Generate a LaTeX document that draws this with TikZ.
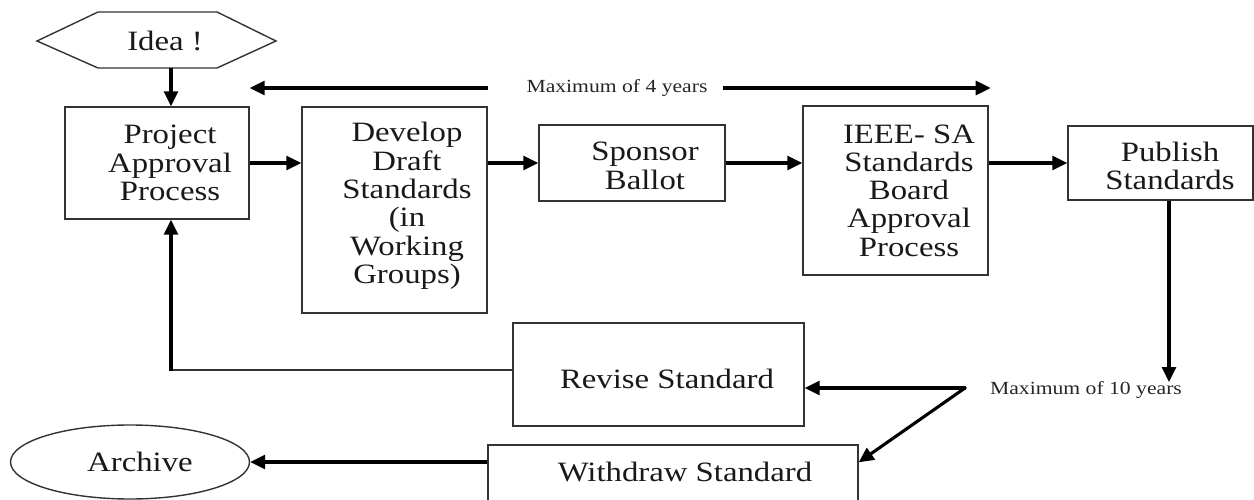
\documentclass[tikz,border=0pt]{standalone}
\usepackage{fontspec}
\setmainfont{Liberation Serif}[FakeStretch=1.17]
\usetikzlibrary{arrows.meta,shapes.geometric,calc}
\begin{document}
\begin{tikzpicture}[x=1pt,y=-1pt,
  box/.style={draw=black!80, line width=1.4pt, rectangle, inner sep=0pt},
  btxt/.style={font=\fontsize{28}{28.3}\selectfont, align=center, text=black!90, inner sep=0pt},
  small/.style={font=\fontsize{18.5}{20}\selectfont, text=black!85, inner sep=0pt},
  arr/.style={line width=3.1pt, -{Triangle[length=15pt,width=14pt]}},
  thinline/.style={line width=1.4pt, draw=black!80}]
\clip (0,0) rectangle (1254,500);
\fill[white] (0,0) rectangle (1254,500);

% hexagon
\draw[thinline] (37,41) -- (98,12) -- (217,12) -- (276,41) -- (217,68) -- (98,68) -- cycle;
\node[btxt] (idea) at (165,41) {Idea !};
\coordinate (ideabot) at (171,68);
\coordinate (pcol) at (171,0);

% boxes
\node[box, minimum width=184pt, minimum height=112pt] (proj) at (157,163) {};
\node[btxt] (projt) at (170,163) {Project\\Approval\\Process};

\node[box, minimum width=185pt, minimum height=206pt] (dev) at (394.5,210) {};
\node[btxt] (devt) at (407,206) {Develop\\Draft\\Standards\\(in\\Working\\Groups)};

\node[box, minimum width=186pt, minimum height=76pt] (sp) at (632,163) {};
\node[btxt] (spt) at (645,166) {Sponsor\\Ballot};

\node[box, minimum width=185pt, minimum height=169pt] (ieee) at (895.5,190.5) {};
\node[btxt] (ieeet) at (909,190.5) {IEEE- SA\\Standards\\Board\\Approval\\Process};

\node[box, minimum width=185pt, minimum height=74pt] (pub) at (1160.5,163) {};
\node[btxt] (pubt) at (1170,166) {Publish\\Standards};

\node[box, minimum width=291pt, minimum height=103pt] (rev) at (658.5,374.5) {};
\node[btxt] (revt) at (667,379) {Revise Standard};

\node[box, minimum width=370pt, minimum height=75pt] (wd) at (673,482.5) {};
\node[btxt] (wdt) at (685,472) {Withdraw Standard};

\node[box, ellipse, minimum width=239pt, minimum height=74pt] (arch) at (130,462) {};
\node[btxt] (archt) at (140,462) {Archive};

% labels
\node[small] (m4) at (617,88) {Maximum of 4 years};
\coordinate (m4l) at (488,88);
\coordinate (m4r) at (723,88);
\node[small] (m10) at (1086,390) {Maximum of 10 years};
\coordinate (m10tip) at (1169,382);
\coordinate (br) at (965,388);

% connectors
\draw[arr] (ideabot) -- (proj.north -| pcol);
\draw[arr] (proj.east) -- (proj.east -| dev.west);
\draw[arr] (dev.east |- sp.west) -- (sp.west);
\draw[arr] (sp.east) -- (sp.east -| ieee.west);
\draw[arr] (ieee.east |- pub.west) -- (pub.west);
\draw[arr] (m4l) -- (m4l -| proj.east);
\draw[arr] (m4r) -- ($(m4r -| ieee.east)+(2,0)$);
\draw[arr] (pub.south -| m10tip) -- (m10tip);
\draw[arr, line cap=round] (br) -- (br -| rev.east);
\draw[arr, line cap=round] (br) -- ($(wd.north east)+(0,18)$);
\coordinate (fb) at ($(rev.west)+(0,-4.5)$);
\draw[thinline] (fb) -- (fb -| pcol);
\draw[arr] ($(fb -| pcol)+(0,0.7)$) -- (proj.south -| pcol);
\draw[arr] (wd.west |- arch.east) -- (arch.east);
\end{tikzpicture}
\end{document}
